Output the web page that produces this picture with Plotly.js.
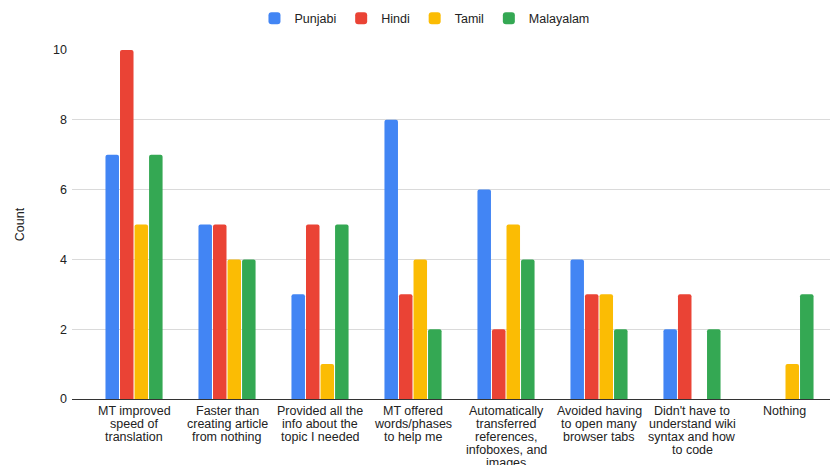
<!DOCTYPE html>
<html><head><meta charset="utf-8">
<script src="https://cdn.plot.ly/plotly-3.0.1.min.js"></script>
<style>body{margin:0;padding:0;background:#fff}#chart{width:830px;height:465px}</style>
</head><body><div id="chart"></div>
<script>
const categories = [
  "MT improved<br>speed of<br>translation",
  "Faster than<br>creating article<br>from nothing",
  "Provided all the<br>info about the<br>topic I needed",
  "MT offered<br>words/phases<br>to help me",
  "Automatically<br>transferred<br>references,<br>infoboxes, and<br>images",
  "Avoided having<br>to open many<br>browser tabs",
  "Didn't have to<br>understand wiki<br>syntax and how<br>to code",
  "Nothing"
];
const punjabi   = [7, 5, 3, 8, 6, 4, 2, 0];
const hindi     = [10, 5, 5, 3, 2, 3, 3, 0];
const tamil     = [5, 4, 1, 4, 5, 3, 0, 1];
const malayalam = [7, 4, 5, 2, 4, 2, 2, 3];
const seriesNames = ["Punjabi", "Hindi", "Tamil", "Malayalam"];
const seriesColors = ["#4285F4", "#EA4335", "#FBBC04", "#34A853"];
const yTicks = [0, 2, 4, 6, 8, 10];

const vals = [punjabi, hindi, tamil, malayalam];
const traces = vals.map((v, i) => ({
  type: "bar", x: categories, y: v, name: seriesNames[i],
  marker: {color: seriesColors[i]}, hoverinfo: "skip"
}));

// category labels drawn as line-by-line annotations for tighter line spacing
const annotations = [];
categories.forEach(c => {
  c.split("<br>").forEach((line, j) => {
    annotations.push({x: c, xref: "x", y: 0, yref: "y", yshift: -12 - 13 * j,
      text: line, showarrow: false, xanchor: "center", yanchor: "middle",
      font: {size: 12.5, color: "#222"}});
  });
});

const layout = {
  width: 830, height: 465,
  margin: {l: 72, r: 0, t: 50, b: 66},
  paper_bgcolor: "#fff", plot_bgcolor: "#fff",
  font: {family: "Liberation Sans, Arial, sans-serif", size: 12.5, color: "#222"},
  barmode: "group", bargap: 0.375, bargroupgap: 0.07, barcornerradius: 2,
  showlegend: true,
  legend: {orientation: "h", xref: "paper", x: 0.465, xanchor: "center", yref: "paper", y: 1.09, yanchor: "middle",
           font: {size: 12.5, color: "#222"}, traceorder: "normal"},
  annotations: annotations,
  xaxis: {range: [-0.667, 7.484], showgrid: false, showline: false, zeroline: false,
          ticks: "", showticklabels: false, automargin: false},
  yaxis: {range: [0, 10], tickvals: yTicks, ticktext: yTicks.map(String),
          showgrid: true, gridcolor: "#dadada", zeroline: true, zerolinecolor: "#333", zerolinewidth: 1,
          ticks: "", ticklabelstandoff: 4, tickfont: {size: 12.5, color: "#222"}, automargin: false,
          title: {text: "Count", font: {size: 12.5, color: "#222"}, standoff: 25}}
};
Plotly.newPlot("chart", traces, layout, {displayModeBar: false, staticPlot: true});
</script></body></html>
